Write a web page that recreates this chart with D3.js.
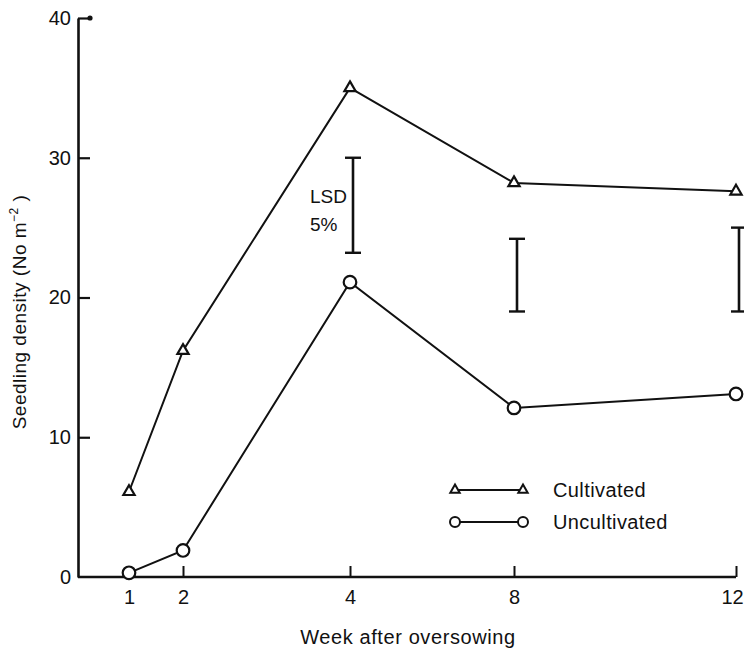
<!DOCTYPE html>
<html>
<head>
<meta charset="utf-8">
<script src="https://cdn.jsdelivr.net/npm/d3@7"></script>
<style>
  body { margin: 0; background: #fff; }
  text { font-family: "Liberation Sans", Arial, sans-serif; fill: #111; }
</style>
</head>
<body>
<svg width="744" height="648"></svg>
<script>
// data
const weeks = [1, 2, 4, 8, 12];
const cultivated = [6.1, 16.2, 35.0, 28.2, 27.6];
const uncultivated = [0.3, 1.9, 21.1, 12.1, 13.1];

// LSD 5% bars
const lsdWeeks = [4, 8, 12];
const lsdLow = [23.2, 19.0, 19.0];
const lsdHigh = [30.0, 24.2, 25.0];

const yTicks = [0, 10, 20, 30, 40];

const svg = d3.select("svg");

// the x axis of the original is not evenly spaced, so a piecewise scale
const x = d3.scaleLinear()
    .domain(weeks)
    .range([129, 183, 350, 514, 736]);

const y = d3.scaleLinear()
    .domain([0, 40])
    .range([577, 18]);

const ink = "#111";

// y axis, ticks inward
const yAxis = d3.axisLeft(y)
    .tickValues(yTicks)
    .tickSizeInner(-12)
    .tickSizeOuter(0)
    .tickPadding(7);

const gy = svg.append("g")
    .attr("transform", "translate(78,0)")
    .call(yAxis);
gy.select(".domain").attr("stroke", ink).attr("stroke-width", 2.6);
gy.selectAll(".tick line").attr("stroke", ink).attr("stroke-width", 2.2);
gy.selectAll(".tick").filter(d => d === 0).select("line").remove();
gy.selectAll(".tick text")
    .attr("font-size", 20)
    .attr("font-family", "Liberation Sans, Arial, sans-serif")
    .attr("fill", ink);
// little dot at the end of the top tick
gy.append("circle")
    .attr("cx", 12)
    .attr("cy", y(40))
    .attr("r", 2.6)
    .attr("fill", ink);

// x axis, ticks upward
const xAxis = d3.axisBottom(x)
    .tickValues(weeks)
    .tickSizeInner(-11)
    .tickSizeOuter(0)
    .tickPadding(13);

const gx = svg.append("g")
    .attr("transform", `translate(0,${y(0)})`)
    .call(xAxis);
gx.select(".domain").remove();
gx.append("line")
    .attr("x1", 78)
    .attr("x2", x(12))
    .attr("stroke", ink)
    .attr("stroke-width", 2.4);
gx.selectAll(".tick line").attr("stroke", ink).attr("stroke-width", 2);
gx.selectAll(".tick text")
    .attr("font-size", 20)
    .attr("font-family", "Liberation Sans, Arial, sans-serif")
    .attr("fill", ink);
// the last label sits against the right edge
gx.selectAll(".tick").filter(d => d === 12).select("text").attr("dx", -4);

// axis titles
svg.append("text")
    .attr("x", 408)
    .attr("y", 644)
    .attr("text-anchor", "middle")
    .attr("font-size", 20)
    .attr("letter-spacing", 0.6)
    .text("Week after oversowing");

const yt = svg.append("text")
    .attr("transform", "translate(26,312) rotate(-90)")
    .attr("text-anchor", "middle")
    .attr("font-size", 19)
    .attr("letter-spacing", 0.5);
yt.append("tspan").text("Seedling density (No m");
yt.append("tspan").attr("font-size", 12).attr("dy", -8).text("−2");
yt.append("tspan").attr("dy", 8).text(" )");

// lines
const line = d3.line()
    .x(d => x(d[0]))
    .y(d => y(d[1]));

const cultPts = weeks.map((w, i) => [w, cultivated[i]]);
const uncultPts = weeks.map((w, i) => [w, uncultivated[i]]);

[cultPts, uncultPts].forEach(pts => {
    svg.append("path")
        .datum(pts)
        .attr("d", line)
        .attr("fill", "none")
        .attr("stroke", ink)
        .attr("stroke-width", 2);
});

const tri = d3.symbol().type(d3.symbolTriangle).size(55);
const triSmall = d3.symbol().type(d3.symbolTriangle).size(38);

svg.selectAll(".cult")
    .data(cultPts)
    .enter()
    .append("path")
    .attr("class", "cult")
    .attr("transform", d => `translate(${x(d[0])},${y(d[1])})`)
    .attr("d", tri)
    .attr("fill", "#fff")
    .attr("stroke", ink)
    .attr("stroke-width", 2.2);

svg.selectAll(".uncult")
    .data(uncultPts)
    .enter()
    .append("circle")
    .attr("class", "uncult")
    .attr("cx", d => x(d[0]))
    .attr("cy", d => y(d[1]))
    .attr("r", 6.3)
    .attr("fill", "#fff")
    .attr("stroke", ink)
    .attr("stroke-width", 2.2);

// LSD bars
const lsd = svg.append("g");
lsdWeeks.forEach((w, i) => {
    const cx = x(w) + 3;
    lsd.append("line")
        .attr("x1", cx).attr("x2", cx)
        .attr("y1", y(lsdLow[i])).attr("y2", y(lsdHigh[i]))
        .attr("stroke", ink).attr("stroke-width", 2.6);
    [lsdLow[i], lsdHigh[i]].forEach(v => {
        lsd.append("line")
            .attr("x1", cx - 8).attr("x2", cx + 8)
            .attr("y1", y(v)).attr("y2", y(v))
            .attr("stroke", ink).attr("stroke-width", 2.4);
    });
});
svg.append("text")
    .attr("x", x(4) - 40)
    .attr("y", y(27) + 3)
    .attr("font-size", 19)
    .text("LSD");
svg.append("text")
    .attr("x", x(4) - 40)
    .attr("y", y(25) + 3)
    .attr("font-size", 19)
    .text("5%");

// legend
const legend = svg.append("g").attr("transform", "translate(455,490)");
const legendItems = ["Cultivated", "Uncultivated"];
legendItems.forEach((name, i) => {
    const row = legend.append("g").attr("transform", `translate(0,${i * 32})`);
    row.append("line")
        .attr("x1", 0).attr("x2", 68)
        .attr("stroke", ink).attr("stroke-width", 2);
    [0, 68].forEach(px => {
        if (i === 0) {
            row.append("path")
                .attr("transform", `translate(${px},0)`)
                .attr("d", triSmall)
                .attr("fill", "#fff")
                .attr("stroke", ink)
                .attr("stroke-width", 2);
        } else {
            row.append("circle")
                .attr("cx", px).attr("r", 5)
                .attr("fill", "#fff")
                .attr("stroke", ink)
                .attr("stroke-width", 2);
        }
    });
    row.append("text")
        .attr("x", 98)
        .attr("y", 7)
        .attr("font-size", 20)
        .attr("letter-spacing", 0.4)
        .text(name);
});
</script>
</body>
</html>
